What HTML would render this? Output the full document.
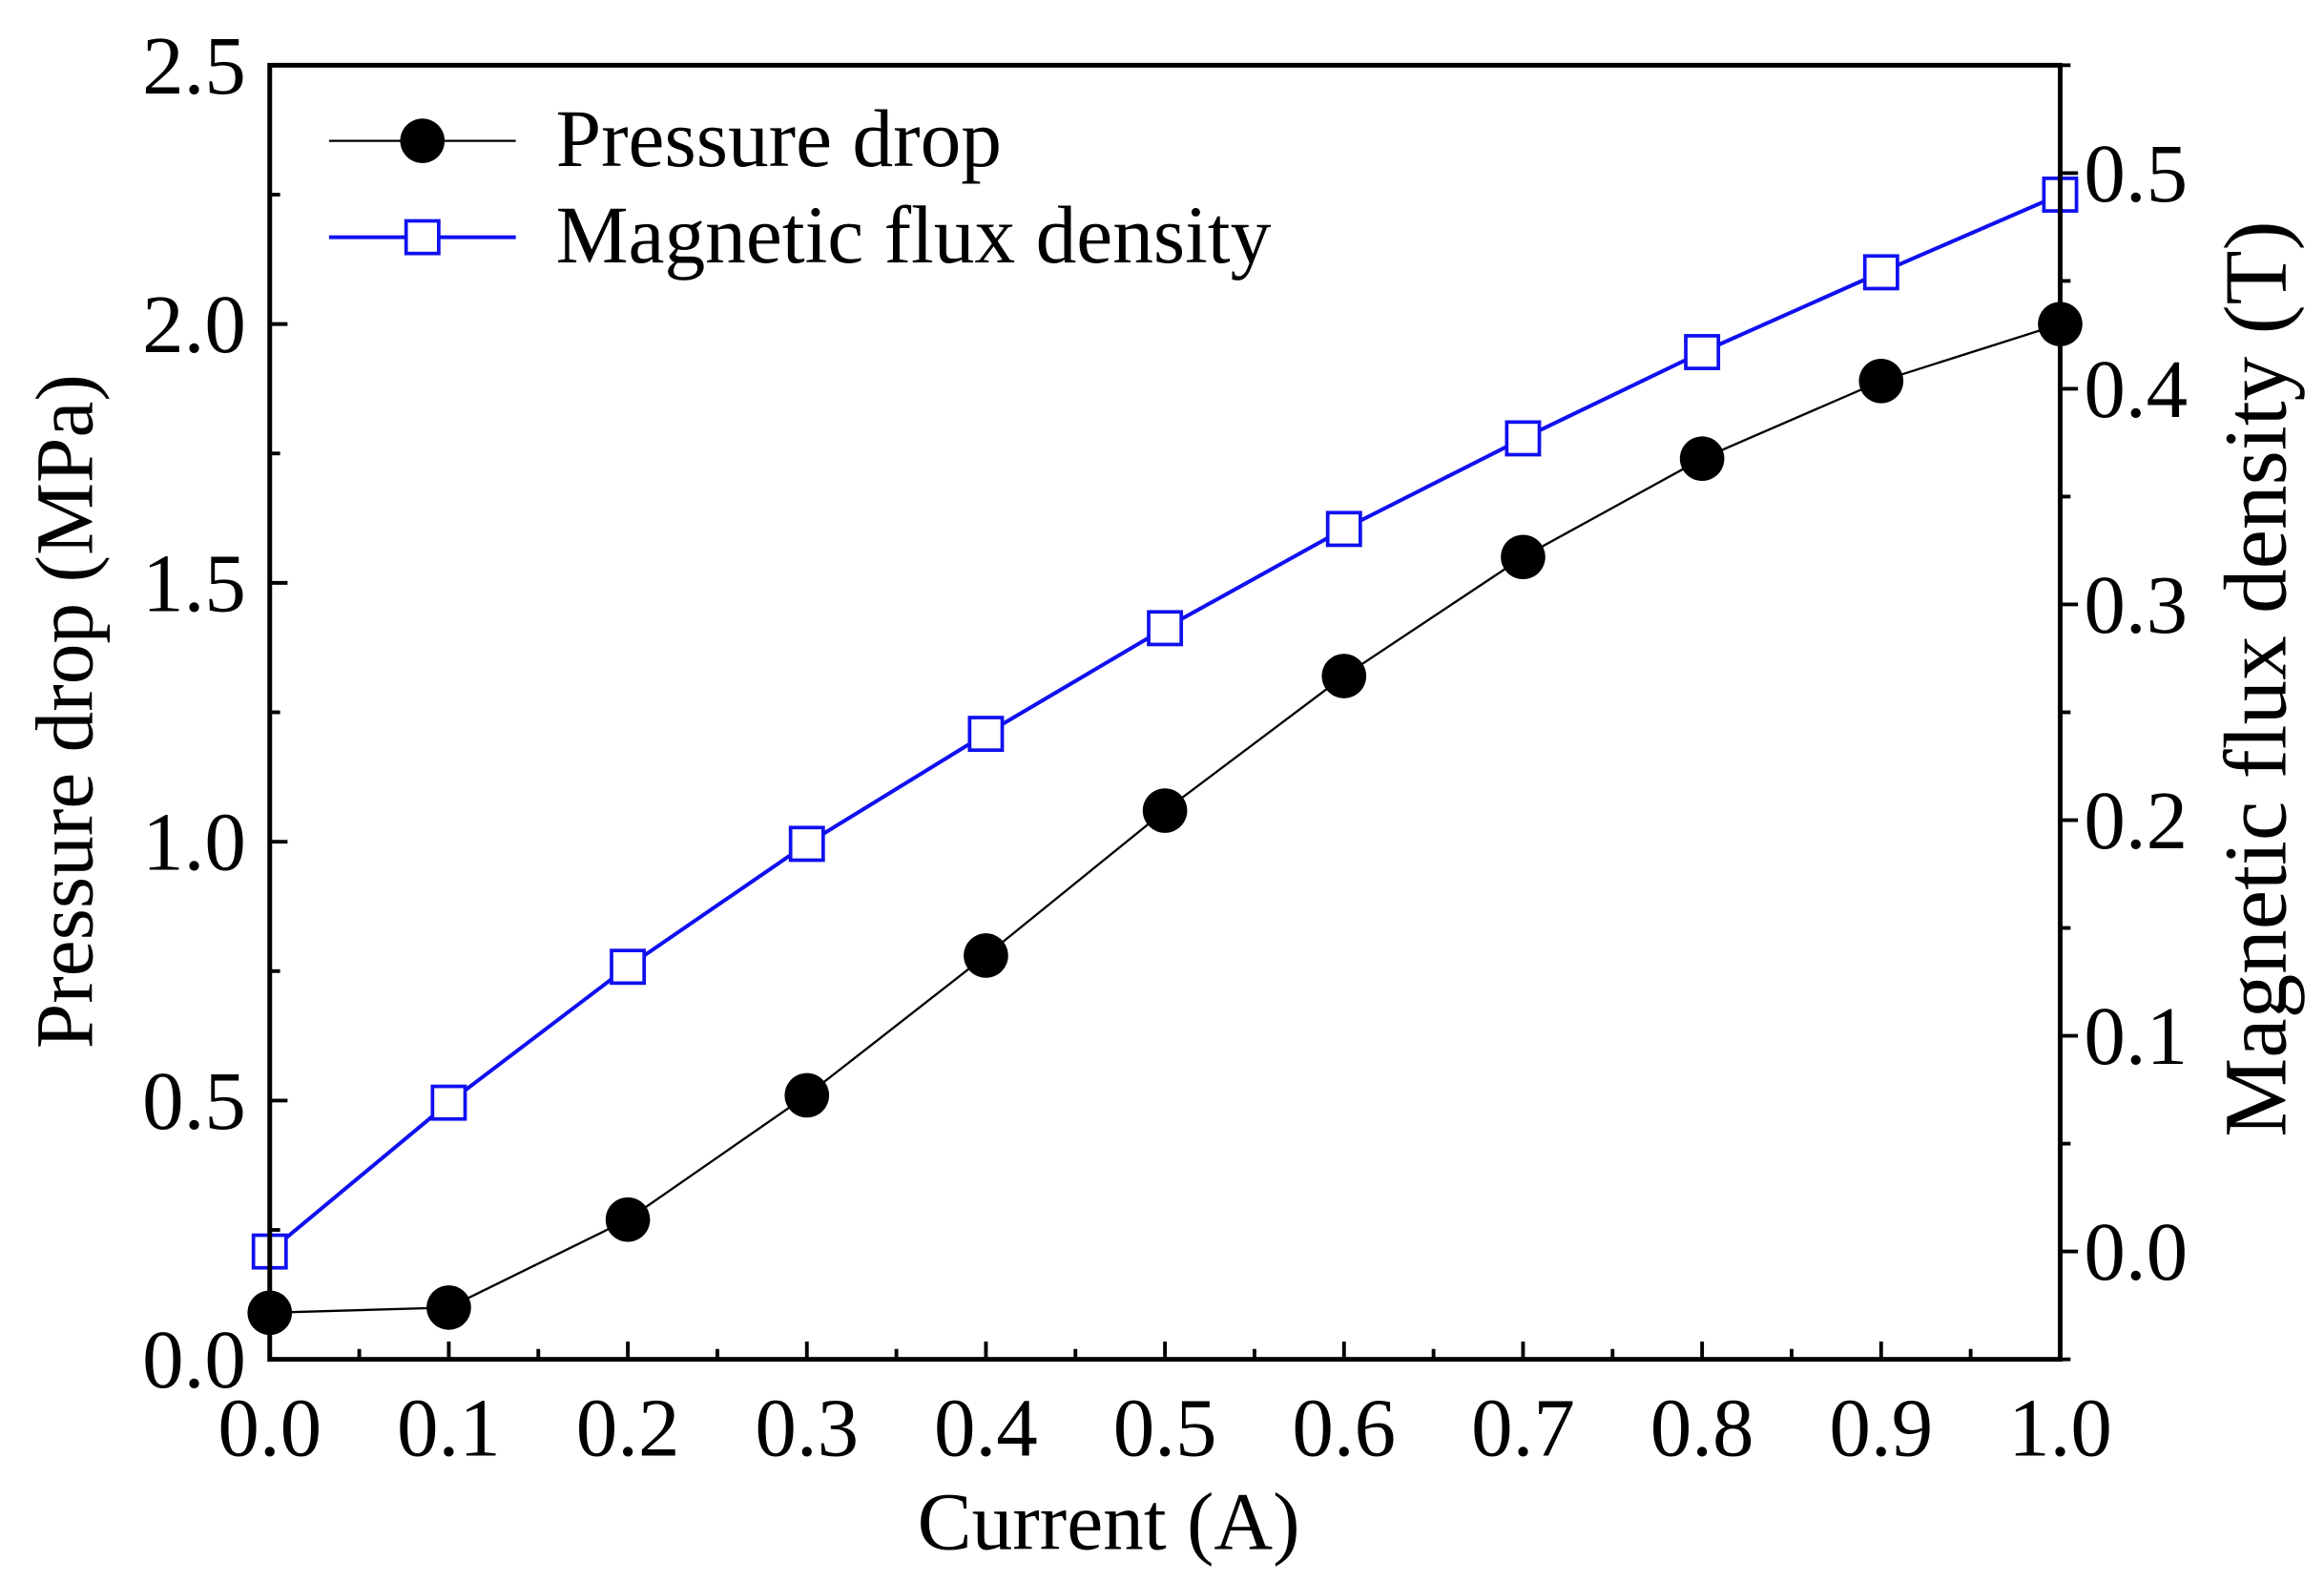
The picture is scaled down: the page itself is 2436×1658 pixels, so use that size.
<!DOCTYPE html>
<html><head><meta charset="utf-8"><style>
html,body{margin:0;padding:0;background:#fff}
svg{display:block}
text{font-family:"Liberation Serif",serif;fill:#000}
</style></head><body>
<svg id="chart" width="2436" height="1658" viewBox="0 0 1568 1067.2" xmlns="http://www.w3.org/2000/svg">
<rect x="0" y="0" width="1568" height="1068" fill="#fff"/>
<g id="grid"></g>
<g id="series"></g>
<rect x="182" y="44" width="1208" height="873" fill="none" stroke="#000" stroke-width="3.2"/>
<text x="748" y="1045" font-size="55" text-anchor="middle">Current (A)</text>
<text transform="translate(62,480) rotate(-90)" font-size="55" text-anchor="middle">Pressure drop (MPa)</text>
<text transform="translate(1542,458) rotate(-90)" font-size="60" text-anchor="middle">Magnetic flux density (T)</text>
<g>
<line x1="222" y1="95" x2="348" y2="95" stroke="#000" stroke-width="1.5"/>
<circle cx="285" cy="95" r="15" fill="#000"/>
<text x="375" y="112" font-size="55">Pressure drop</text>
<line x1="222" y1="160" x2="348" y2="160" stroke="#1010f0" stroke-width="2.6"/>
<rect x="274" y="149" width="22" height="22" fill="#fff" stroke="#1010f0" stroke-width="2.4"/>
<text x="375" y="177" font-size="55">Magnetic flux density</text>
</g>
</svg>
<script>
const currents=[0,0.1,0.2,0.3,0.4,0.5,0.6,0.7,0.8,0.9,1.0];
const pressure=[0.09,0.10,0.27,0.51,0.78,1.06,1.32,1.55,1.74,1.89,2.00];
const flux=[0.0,0.069,0.132,0.189,0.24,0.289,0.335,0.377,0.417,0.454,0.49];
const xTicks=["0.0","0.1","0.2","0.3","0.4","0.5","0.6","0.7","0.8","0.9","1.0"];
const leftTicks=["0.0","0.5","1.0","1.5","2.0","2.5"];
const rightTicks=["0.0","0.1","0.2","0.3","0.4","0.5"];
const NS="http://www.w3.org/2000/svg";
const L=182,R=1390,T=44,B=917;
const xS=v=>L+(v-0)/(1-0)*(R-L);
const yL=v=>B-(v-0)/(2.5-0)*(B-T);
const yR=v=>B-(v-(-0.05))/(0.55+0.05)*(B-T);
const grid=document.getElementById('grid'),ser=document.getElementById('series');
function mk(tag,attrs,parent){const e=document.createElementNS(NS,tag);for(const k in attrs)e.setAttribute(k,attrs[k]);parent.appendChild(e);return e;}
xTicks.forEach((t,i)=>{const v=parseFloat(t),x=xS(v);
 const l=mk('line',{x1:x,y1:B,x2:x,y2:B-12,stroke:'#000','stroke-width':2.5},grid);
 
 
 if(i<xTicks.length-1){const m=mk('line',{x1:xS(v+0.05),y1:B,x2:xS(v+0.05),y2:B-7,stroke:'#000','stroke-width':2.5},grid);
 
 }
 const tx=mk('text',{x:x,y:982,'font-size':56,'text-anchor':'middle'},grid);tx.textContent=t;
 
 
});
leftTicks.forEach((t,i)=>{const v=parseFloat(t),y=yL(v);
 const l=mk('line',{x1:L,y1:y,x2:L+12,y2:y,stroke:'#000','stroke-width':2.5},grid);
 
 
 if(i<leftTicks.length-1){const m=mk('line',{x1:L,y1:yL(v+0.25),x2:L+7,y2:yL(v+0.25),stroke:'#000','stroke-width':2.5},grid);
 
 }
 const tx=mk('text',{x:166,y:y+19,'font-size':56,'text-anchor':'end'},grid);tx.textContent=t;
 
 
});
[-0.05,0,0.05,0.1,0.15,0.2,0.25,0.3,0.35,0.4,0.45,0.5,0.55].forEach(v=>{const y=yR(v);const maj=Math.abs(v*10-Math.round(v*10))<1e-6;
 const l=mk('line',{x1:R,y1:y,x2:R+(maj?12:7),y2:y,stroke:'#000','stroke-width':2.5},grid);
 
 });
rightTicks.forEach(t=>{const y=yR(parseFloat(t));
 const tx=mk('text',{x:1406,y:y+19,'font-size':56},grid);tx.textContent=t;
 
 });
const pl=mk('polyline',{points:currents.map((c,i)=>xS(c)+','+yL(pressure[i])).join(' '),fill:'none',stroke:'#000','stroke-width':1.5},ser);


const fl=mk('polyline',{points:currents.map((c,i)=>xS(c)+','+yR(flux[i])).join(' '),fill:'none',stroke:'#1010f0','stroke-width':2.6},ser);


currents.forEach((c,i)=>{
 const s=mk('rect',{x:xS(c)-11,y:yR(flux[i])-11,width:22,height:22,fill:'#fff',stroke:'#1010f0','stroke-width':2.4},ser);
 
 
 const p=mk('circle',{cx:xS(c),cy:yL(pressure[i]),r:15,fill:'#000'},ser);
 
 
});
</script>
</body></html>
